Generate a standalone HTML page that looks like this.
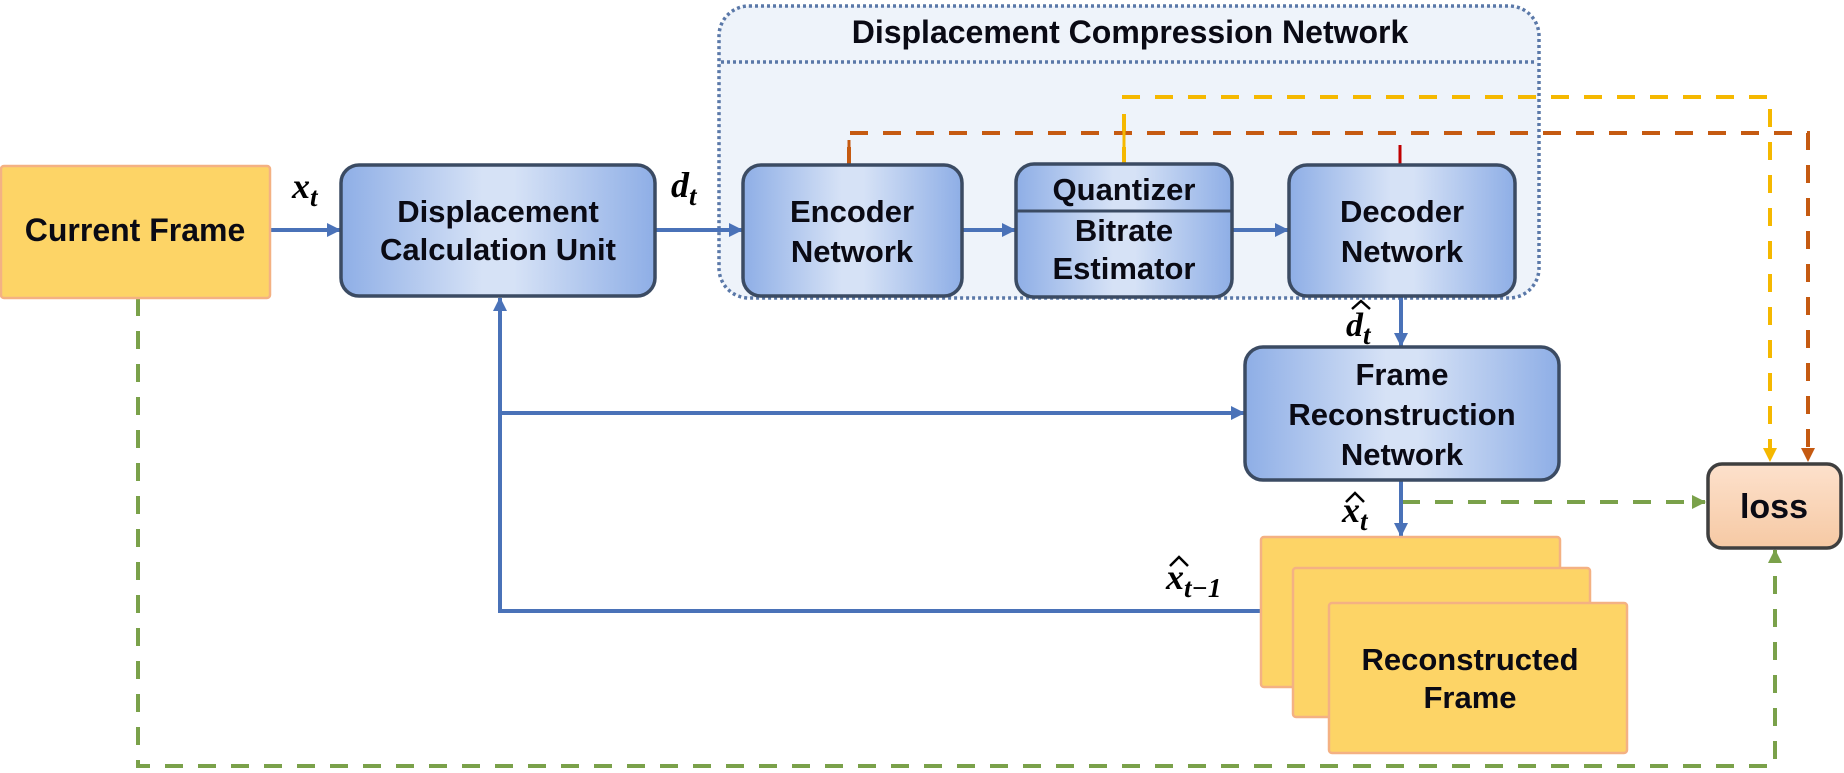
<!DOCTYPE html>
<html><head><meta charset="utf-8"><style>
html,body{margin:0;padding:0;background:#fff;}
svg{display:block;}
.t{font-family:"Liberation Sans",Arial,sans-serif;font-weight:bold;font-size:31px;fill:#0a0a14;text-anchor:middle;}
.m{font-family:"Liberation Serif",serif;font-style:italic;font-weight:bold;fill:#000;}
</style></head><body>
<svg width="1844" height="773" viewBox="0 0 1844 773" xmlns="http://www.w3.org/2000/svg">
<defs>
<linearGradient id="bg" x1="0" y1="0" x2="1" y2="0">
<stop offset="0" stop-color="#8eaee6"/><stop offset="0.45" stop-color="#d6e2f6"/><stop offset="0.55" stop-color="#d6e2f6"/><stop offset="1" stop-color="#8eaee6"/>
</linearGradient>
<linearGradient id="lg" x1="0" y1="0" x2="0" y2="1">
<stop offset="0" stop-color="#fde1cc"/><stop offset="1" stop-color="#f6c9a4"/>
</linearGradient>
<marker id="ab" markerWidth="14" markerHeight="14" refX="13" refY="7" orient="auto" markerUnits="userSpaceOnUse"><path d="M0,0 L14,7 L0,14z" fill="#4a72b8"/></marker>
<marker id="ag" markerWidth="14" markerHeight="14" refX="13" refY="7" orient="auto" markerUnits="userSpaceOnUse"><path d="M0,0 L14,7 L0,14z" fill="#7aa14a"/></marker>
<marker id="ay" markerWidth="14" markerHeight="14" refX="13" refY="7" orient="auto" markerUnits="userSpaceOnUse"><path d="M0,0 L14,7 L0,14z" fill="#f5b800"/></marker>
<marker id="ao" markerWidth="14" markerHeight="14" refX="13" refY="7" orient="auto" markerUnits="userSpaceOnUse"><path d="M0,0 L14,7 L0,14z" fill="#c55a11"/></marker>
</defs>

<rect x="719" y="6" width="820" height="292" rx="30" fill="#eef3fa" stroke="#5a78a8" stroke-width="3.5" stroke-dasharray="3 3"/>
<line x1="721" y1="62" x2="1537" y2="62" stroke="#5a78a8" stroke-width="3.5" stroke-dasharray="3 3"/>
<text class="t" x="1130" y="43" style="font-size:32px">Displacement Compression Network</text>

<polyline points="1124,165 1124,97 1770,97 1770,461" fill="none" stroke="#f5b800" stroke-width="4" stroke-dasharray="18 15" marker-end="url(#ay)"/>
<polyline points="849,165 849,133 1808,133 1808,461" fill="none" stroke="#c55a11" stroke-width="4" stroke-dasharray="18 15" marker-end="url(#ao)"/>
<line x1="849" y1="165" x2="849" y2="140" stroke="#c55a11" stroke-width="3"/>
<line x1="1124" y1="165" x2="1124" y2="120" stroke="#f5b800" stroke-width="3"/>
<line x1="1400" y1="165" x2="1400" y2="145" stroke="#c00000" stroke-width="3"/>
<polyline points="138,298 138,766 1775,766 1775,550" fill="none" stroke="#7aa14a" stroke-width="4" stroke-dasharray="18 15" marker-end="url(#ag)"/>
<line x1="1402" y1="502" x2="1705" y2="502" stroke="#7aa14a" stroke-width="4" stroke-dasharray="18 15" marker-end="url(#ag)"/>

<g stroke="#4a72b8" stroke-width="4" fill="none">
<line x1="270" y1="230" x2="340" y2="230" marker-end="url(#ab)"/>
<line x1="655" y1="230" x2="742" y2="230" marker-end="url(#ab)"/>
<line x1="962" y1="230" x2="1015" y2="230" marker-end="url(#ab)"/>
<line x1="1232" y1="230" x2="1288" y2="230" marker-end="url(#ab)"/>
<line x1="1401" y1="297" x2="1401" y2="346" marker-end="url(#ab)"/>
<line x1="1401" y1="481" x2="1401" y2="536" marker-end="url(#ab)"/>
<polyline points="1261,611 500,611 500,298" marker-end="url(#ab)"/>
<line x1="500" y1="413" x2="1244" y2="413" marker-end="url(#ab)"/>
</g>

<rect x="1" y="166" width="269" height="132" rx="3" fill="#fdd466" stroke="#f4b183" stroke-width="2.5"/>
<text class="t" x="135" y="241" style="font-size:32px">Current Frame</text>

<g fill="url(#bg)" stroke="#3b4b63" stroke-width="3.5">
<rect x="341" y="165" width="314" height="131" rx="18"/>
<rect x="743" y="165" width="219" height="131" rx="18"/>
<rect x="1016" y="164" width="216" height="133" rx="18"/>
<rect x="1289" y="165" width="226" height="131" rx="18"/>
<rect x="1245" y="347" width="314" height="133" rx="18"/>
</g>
<line x1="1017" y1="211" x2="1231" y2="211" stroke="#3b4b63" stroke-width="3"/>
<text class="t" x="498" y="222">Displacement</text>
<text class="t" x="498" y="260">Calculation Unit</text>
<text class="t" x="852" y="222">Encoder</text>
<text class="t" x="852" y="262">Network</text>
<text class="t" x="1124" y="200">Quantizer</text>
<text class="t" x="1124" y="241">Bitrate</text>
<text class="t" x="1124" y="279">Estimator</text>
<text class="t" x="1402" y="222">Decoder</text>
<text class="t" x="1402" y="262">Network</text>
<text class="t" x="1402" y="385">Frame</text>
<text class="t" x="1402" y="425">Reconstruction</text>
<text class="t" x="1402" y="465">Network</text>

<g fill="#fdd466" stroke="#f4b183" stroke-width="2.5">
<rect x="1261" y="537" width="299" height="150" rx="3"/>
<rect x="1293" y="568" width="297" height="149" rx="3"/>
<rect x="1329" y="603" width="298" height="150" rx="3"/>
</g>
<text class="t" x="1470" y="670">Reconstructed</text>
<text class="t" x="1470" y="708">Frame</text>

<rect x="1708" y="464" width="133" height="84" rx="14" fill="url(#lg)" stroke="#3f3f3f" stroke-width="3.5"/>
<text class="t" x="1774" y="518" style="font-size:34px">loss</text>

<text class="m" x="292" y="198" font-size="36">x<tspan font-size="27" dy="8">t</tspan></text>
<text class="m" x="671" y="197" font-size="36">d<tspan font-size="27" dy="8">t</tspan></text>
<text class="m" x="1346" y="336" font-size="34">d<tspan font-size="27" dy="8">t</tspan></text>
<polyline points="1352,309 1361,301 1370,309" fill="none" stroke="#000" stroke-width="2.5"/>
<text class="m" x="1342" y="522" font-size="36">x<tspan font-size="27" dy="8">t</tspan></text>
<polyline points="1346,502 1355,493 1364,502" fill="none" stroke="#000" stroke-width="2.5"/>
<text class="m" x="1166" y="589" font-size="36">x<tspan font-size="27" dy="8">t−1</tspan></text>
<polyline points="1170,566 1179,557 1188,566" fill="none" stroke="#000" stroke-width="2.5"/>
</svg>
</body></html>
